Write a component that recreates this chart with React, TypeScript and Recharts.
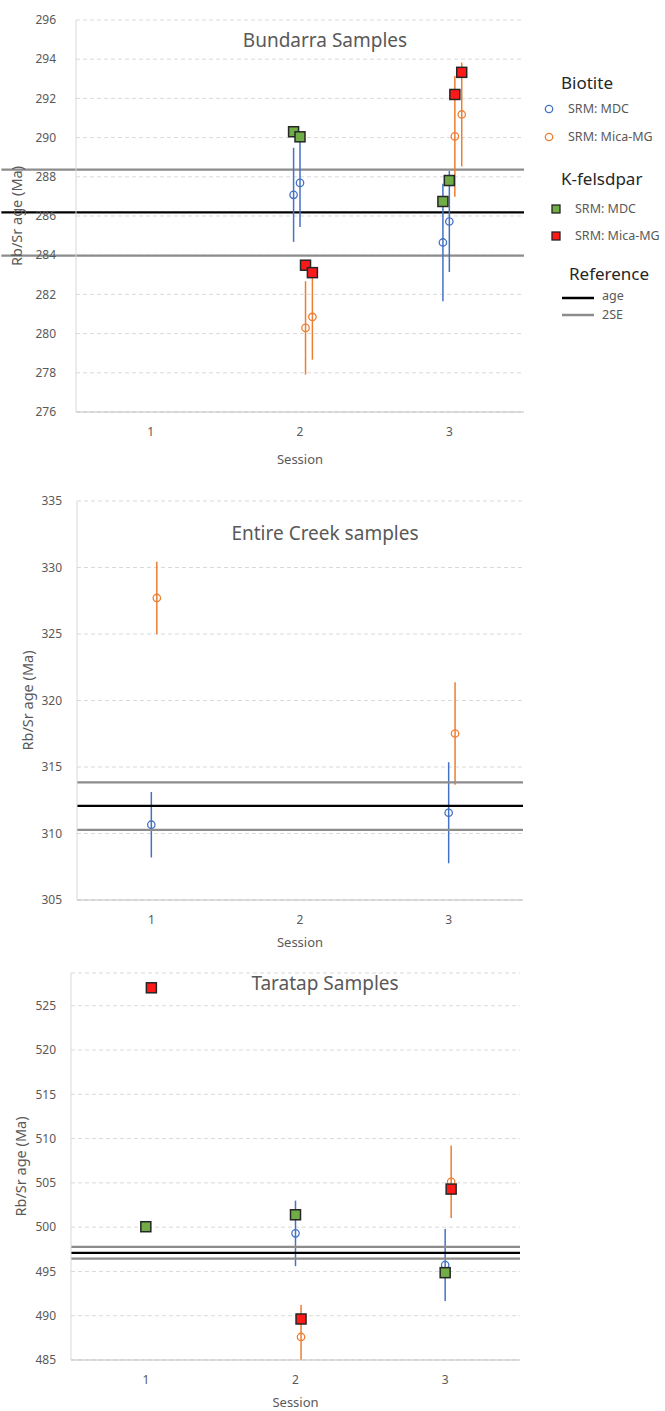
import React from "react";
import {
  CartesianGrid,
  ErrorBar,
  Label,
  Legend,
  ReferenceLine,
  Scatter,
  ScatterChart,
  XAxis,
  YAxis,
} from "recharts";

// Excel-ish palette
const BLUE = "#4472C4";
const ORANGE = "#ED7D31";
const GREEN = "#70AD47";
const RED = "#FF1A1A";
const GRID = "#d9d9d9";
const TEXT = "#595959";
const FONT = "'Noto Sans', sans-serif";

const sessionTicks = [1, 2, 3];

// --- Bundarra ---
const bundarraTicks = [276, 278, 280, 282, 284, 286, 288, 290, 292, 294, 296];
const bundarraBiotiteMdc = [
  { session: 1.957, age: 287.08, err: 2.4 },
  { session: 2.0, age: 287.69, err: 2.25 },
  { session: 2.957, age: 284.65, err: 3.0 },
  { session: 3.0, age: 285.72, err: 2.58 },
];
const bundarraBiotiteMica = [
  { session: 2.037, age: 280.29, err: 2.38 },
  { session: 2.083, age: 280.85, err: 2.18 },
  { session: 3.037, age: 290.06, err: 3.08 },
  { session: 3.083, age: 291.18, err: 2.65 },
];
const bundarraKfsMdc = [
  { session: 1.957, age: 290.3 },
  { session: 2.0, age: 290.04 },
  { session: 2.957, age: 286.74 },
  { session: 3.0, age: 287.81 },
];
const bundarraKfsMica = [
  { session: 2.037, age: 283.49 },
  { session: 2.083, age: 283.11 },
  { session: 3.037, age: 292.2 },
  { session: 3.083, age: 293.33 },
];
const bundarraRef = { age: 286.18, upper: 288.36, lower: 283.98 };

// --- Entire Creek ---
const entireTicks = [305, 310, 315, 320, 325, 330, 335];
const entireBiotiteMdc = [
  { session: 1.0, age: 310.66, err: 2.46 },
  { session: 3.0, age: 311.56, err: 3.8 },
];
const entireBiotiteMica = [
  { session: 1.037, age: 327.71, err: 2.72 },
  { session: 3.043, age: 317.52, err: 3.85 },
];
const entireRef = { age: 312.08, upper: 313.85, lower: 310.27 };

// --- Taratap ---
const taratapTicks = [485, 490, 495, 500, 505, 510, 515, 520, 525];
// err = [below, above]; the session-2 mica bar is cut at the axis floor
const taratapBiotiteMdc = [
  { session: 2.0, age: 499.3, err: [3.7, 3.7] },
  { session: 3.0, age: 495.72, err: [4.06, 4.06] },
];
const taratapBiotiteMica = [
  { session: 2.037, age: 487.6, err: [2.6, 3.6] },
  { session: 3.04, age: 505.13, err: [4.1, 4.1] },
];
const taratapKfsMdc = [
  { session: 1.0, age: 500.05 },
  { session: 2.0, age: 501.4 },
  { session: 3.0, age: 494.86 },
];
const taratapKfsMica = [
  { session: 1.037, age: 527.03 },
  { session: 2.037, age: 489.63 },
  { session: 3.04, age: 504.3 },
];
const taratapRef = { age: 497.1, upper: 497.76, lower: 496.46 };

const openCircle = (color: string) => (props: any) => (
  <circle cx={props.cx} cy={props.cy} r={3.7} fill="none" stroke={color} strokeWidth={1.3} />
);
const square = (color: string) => (props: any) => (
  <rect
    x={props.cx - 5}
    y={props.cy - 5}
    width={10}
    height={10}
    fill={color}
    stroke="#262626"
    strokeWidth={1.5}
  />
);

const tickStyle = { fontSize: 12, fill: TEXT, fontFamily: FONT };

function BundarraLegend() {
  const title = { fontSize: 17, fill: "#262626", fontFamily: FONT };
  const item = { fontSize: 12.5, fill: TEXT, fontFamily: FONT };
  return (
    <svg width={125} height={270}>
      <text x={21} y={23} dy="0.35em" style={title}>Biotite</text>
      <circle cx={9} cy={49} r={3.7} fill="none" stroke={BLUE} strokeWidth={1.3} />
      <text x={28} y={49} dy="0.35em" style={item}>SRM: MDC</text>
      <circle cx={9} cy={77} r={3.7} fill="none" stroke={ORANGE} strokeWidth={1.3} />
      <text x={28} y={77} dy="0.35em" style={item}>SRM: Mica-MG</text>

      <text x={21} y={119} dy="0.35em" style={title}>K-felsdpar</text>
      <rect x={12} y={145} width={8} height={8} fill={GREEN} stroke="#262626" strokeWidth={1.3} />
      <text x={35} y={149} dy="0.35em" style={item}>SRM: MDC</text>
      <rect x={12} y={172} width={8} height={8} fill={RED} stroke="#262626" strokeWidth={1.3} />
      <text x={35} y={176} dy="0.35em" style={item}>SRM: Mica-MG</text>

      <text x={29} y={214} dy="0.35em" style={title}>Reference</text>
      <line x1={22} x2={54} y1={238} y2={238} stroke="#000" strokeWidth={2.5} />
      <text x={62} y={236} dy="0.35em" style={item}>age</text>
      <line x1={22} x2={54} y1={255} y2={255} stroke="#8c8c8c" strokeWidth={2.5} />
      <text x={62} y={255} dy="0.35em" style={item}>2SE</text>
    </svg>
  );
}

function Axes({ domain, ticks, tickGap, labelOffset, sessionOffset }: any) {
  return [
    <CartesianGrid key="g" vertical={false} stroke={GRID} strokeDasharray="4 3" />,
    <XAxis
      key="x"
      type="number"
      dataKey="session"
      domain={[0.5, 3.5]}
      ticks={sessionTicks}
      allowDataOverflow
      height={30}
      tickLine={false}
      tickMargin={9}
      axisLine={{ stroke: "#bfbfbf" }}
      tick={tickStyle}
    >
      <Label
        value="Session"
        position="bottom"
        offset={sessionOffset}
        style={{ fontSize: 13, fill: TEXT, fontFamily: FONT }}
      />
    </XAxis>,
    <YAxis
      key="y"
      type="number"
      dataKey="age"
      domain={domain}
      ticks={ticks}
      allowDataOverflow
      width={66}
      tickLine={false}
      tickMargin={tickGap}
      axisLine={{ stroke: GRID }}
      tick={tickStyle}
    >
      <Label
        value="Rb/Sr age (Ma)"
        angle={-90}
        position="insideLeft"
        offset={labelOffset}
        style={{ textAnchor: "middle", fontSize: 14.5, fill: TEXT, fontFamily: FONT }}
      />
    </YAxis>,
  ];
}

function ChartTitle({ text, y }: { text: string; y: number }) {
  return (
    <text x={325} y={y} dy="0.35em" textAnchor="middle" style={{ fontSize: 19, fill: TEXT, fontFamily: FONT }}>
      {text}
    </text>
  );
}

export default function App() {
  return (
    <div style={{ position: "absolute", left: 0, top: 0, width: 665, height: 1411, background: "#fff" }}>
      <div style={{ position: "absolute", left: 0, top: 0 }}>
        <ScatterChart width={665} height={478} margin={{ top: 20, right: 141, bottom: 36, left: 10 }}>
          {Axes({ domain: [276, 296], ticks: bundarraTicks, tickGap: 14, labelOffset: 7, sessionOffset: 13 })}
          <ChartTitle text="Bundarra Samples" y={40} />
          <Legend
            layout="vertical"
            align="center"
            verticalAlign="middle"
            wrapperStyle={{ position: "absolute", left: 540, top: 60, width: 125, height: 270 }}
            content={() => <BundarraLegend />}
          />
          <ReferenceLine segment={[{ x: 0, y: bundarraRef.upper }, { x: 3.5, y: bundarraRef.upper }]} stroke="#8c8c8c" strokeWidth={2.25} ifOverflow="visible" />
          <ReferenceLine segment={[{ x: 0, y: bundarraRef.age }, { x: 3.5, y: bundarraRef.age }]} stroke="#000" strokeWidth={2.25} ifOverflow="visible" />
          <ReferenceLine segment={[{ x: 0, y: bundarraRef.lower }, { x: 3.5, y: bundarraRef.lower }]} stroke="#8c8c8c" strokeWidth={2.25} ifOverflow="visible" />
          <Scatter data={bundarraBiotiteMdc} shape={openCircle(BLUE)} isAnimationActive={false}>
            <ErrorBar dataKey="err" direction="y" width={0} stroke={BLUE} strokeWidth={1.5} isAnimationActive={false} />
          </Scatter>
          <Scatter data={bundarraBiotiteMica} shape={openCircle(ORANGE)} isAnimationActive={false}>
            <ErrorBar dataKey="err" direction="y" width={0} stroke={ORANGE} strokeWidth={1.5} isAnimationActive={false} />
          </Scatter>
          <Scatter data={bundarraKfsMdc} shape={square(GREEN)} isAnimationActive={false} />
          <Scatter data={bundarraKfsMica} shape={square(RED)} isAnimationActive={false} />
        </ScatterChart>
      </div>

      <div style={{ position: "absolute", left: 0, top: 478 }}>
        <ScatterChart width={665} height={482} margin={{ top: 23, right: 142, bottom: 30, left: 11 }}>
          {Axes({ domain: [305, 335], ticks: entireTicks, tickGap: 9, labelOffset: 17, sessionOffset: 8 })}
          <ChartTitle text="Entire Creek samples" y={55} />
          <Scatter data={entireBiotiteMdc} shape={openCircle(BLUE)} isAnimationActive={false}>
            <ErrorBar dataKey="err" direction="y" width={0} stroke={BLUE} strokeWidth={1.5} isAnimationActive={false} />
          </Scatter>
          <Scatter data={entireBiotiteMica} shape={openCircle(ORANGE)} isAnimationActive={false}>
            <ErrorBar dataKey="err" direction="y" width={0} stroke={ORANGE} strokeWidth={1.5} isAnimationActive={false} />
          </Scatter>
          <ReferenceLine y={entireRef.upper} stroke="#8c8c8c" strokeWidth={2.25} />
          <ReferenceLine y={entireRef.age} stroke="#000" strokeWidth={2.25} />
          <ReferenceLine y={entireRef.lower} stroke="#8c8c8c" strokeWidth={2.25} />
        </ScatterChart>
      </div>

      <div style={{ position: "absolute", left: 0, top: 960 }}>
        <ScatterChart width={665} height={451} margin={{ top: 13, right: 145, bottom: 21, left: 5 }}>
          {Axes({ domain: [485, 528.7], ticks: taratapTicks, tickGap: 9, labelOffset: 16, sessionOffset: 8 })}
          <ChartTitle text="Taratap Samples" y={23} />
          <Scatter data={taratapBiotiteMdc} shape={openCircle(BLUE)} isAnimationActive={false}>
            <ErrorBar dataKey="err" direction="y" width={0} stroke={BLUE} strokeWidth={1.5} isAnimationActive={false} />
          </Scatter>
          <Scatter data={taratapBiotiteMica} shape={openCircle(ORANGE)} isAnimationActive={false}>
            <ErrorBar dataKey="err" direction="y" width={0} stroke={ORANGE} strokeWidth={1.5} isAnimationActive={false} />
          </Scatter>
          <ReferenceLine y={taratapRef.upper} stroke="#8c8c8c" strokeWidth={2.25} />
          <ReferenceLine y={taratapRef.age} stroke="#000" strokeWidth={2.25} />
          <ReferenceLine y={taratapRef.lower} stroke="#8c8c8c" strokeWidth={2.25} />
          <Scatter data={taratapKfsMdc} shape={square(GREEN)} isAnimationActive={false} />
          <Scatter data={taratapKfsMica} shape={square(RED)} isAnimationActive={false} />
        </ScatterChart>
      </div>
    </div>
  );
}
